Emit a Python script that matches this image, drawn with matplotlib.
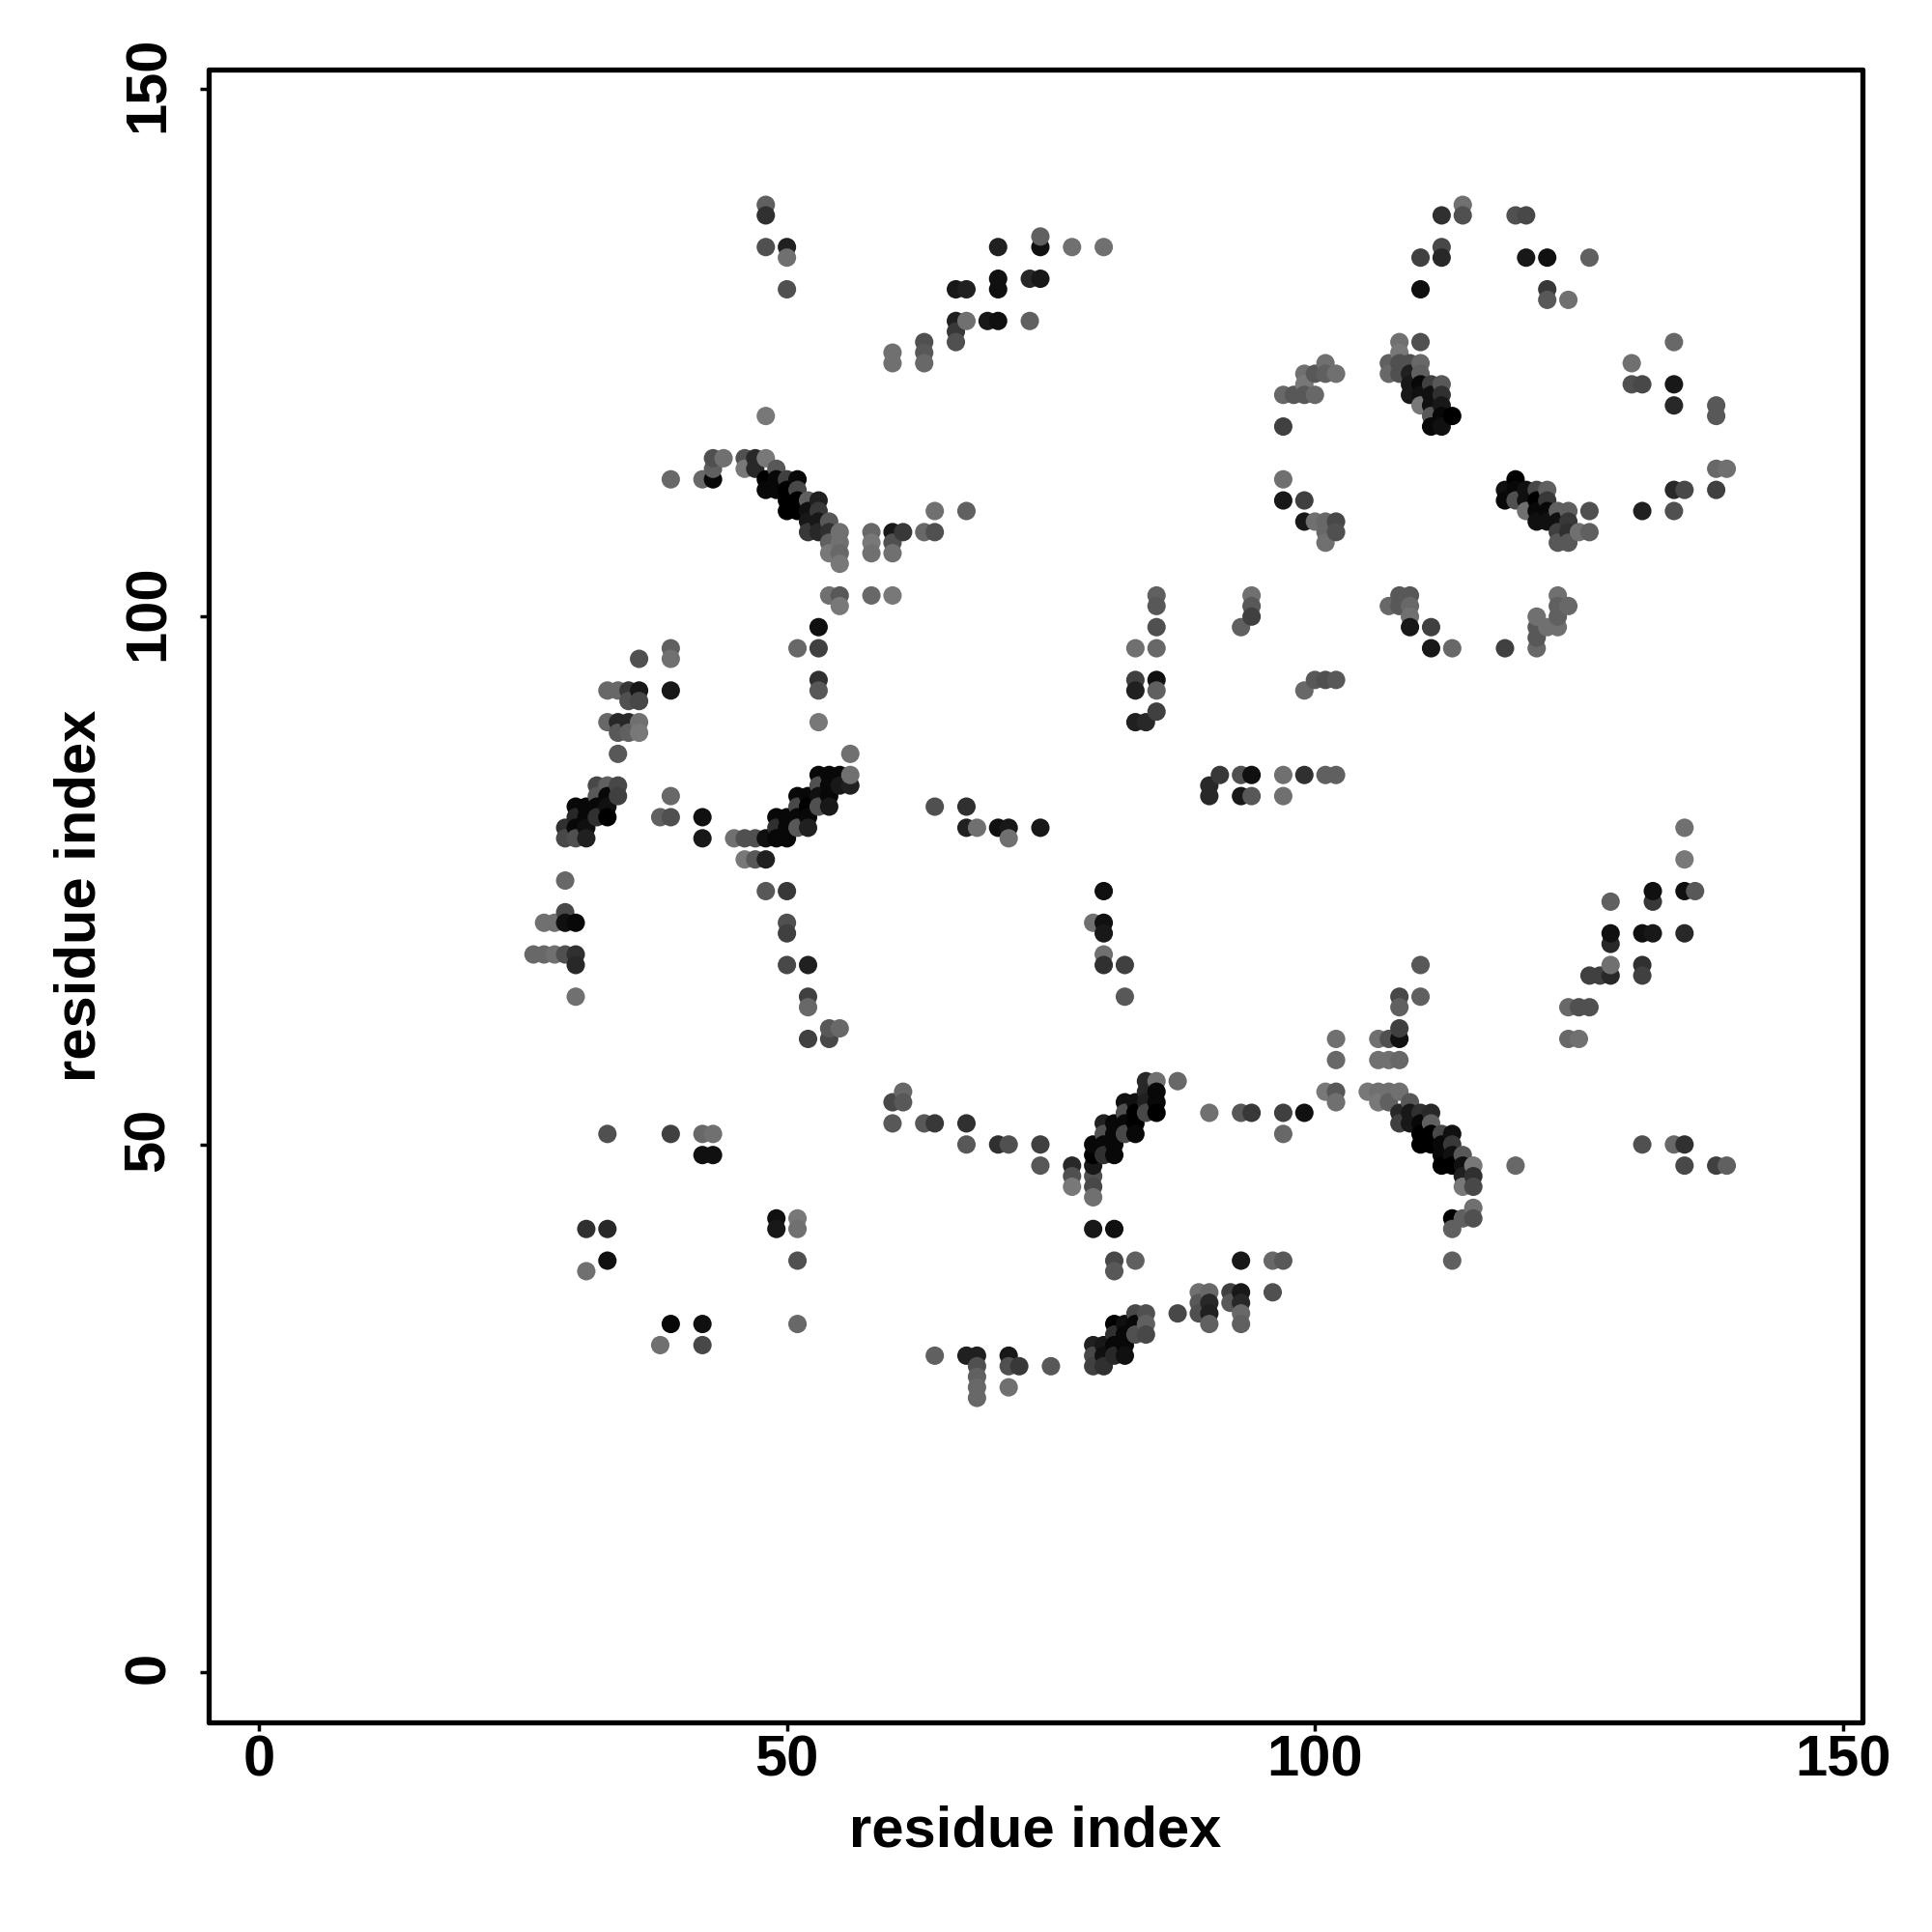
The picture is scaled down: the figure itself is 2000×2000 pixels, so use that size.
import matplotlib
matplotlib.use('Agg')
import matplotlib.pyplot as plt
import matplotlib.transforms as mtrans
import numpy as np

# contacts as (residue x, residue y, grey level), one list per region of the map
top_left = [
    (48,139,0x60),(48,138,0x30),(48,135,0x50),(50,135,0x20),(50,134,0x70),(50,131,0x50),
    (60,125,0x70),(60,124,0x70),(63,126,0x50),(63,125,0x58),(63,124,0x68),
    (66,128,0x20),(66,127,0x38),(66,126,0x50),(67,128,0x70),(66,131,0x18),(67,131,0x20),
    (69,128,0x18),(70,128,0x10),(70,132,0x10),(70,131,0x10),(73,128,0x60),(73,132,0x28),(74,132,0x18),
    (70,135,0x20),(74,135,0x10),(74,136,0x60),(77,135,0x70),(80,135,0x70),
]
top_ring = [
    (112,138,0x30),(114,139,0x70),(114,138,0x50),(110,134,0x40),(112,135,0x48),(112,134,0x28),(110,131,0x10),
    (119,138,0x50),(120,138,0x48),(120,134,0x18),(122,134,0x10),(122,131,0x38),(122,130,0x58),(124,130,0x70),(126,134,0x60),
    (108,126,0x70),(110,126,0x50),(108,125,0x78),(107,124,0x60),(107,123,0x68),(108,124,0x50),(108,123,0x50),(109,124,0x50),
    (109,123,0x20),(110,124,0x68),(110,123,0x60),(109,122,0x18),(109,121,0x18),(110,122,0x08),(110,121,0x10),(110,120,0x78),
    (111,122,0x40),(112,122,0x58),(111,121,0x10),(112,121,0x30),(111,120,0x10),(112,120,0x18),(111,119,0x58),(112,119,0x08),(113,119,0x00),
    (111,118,0x08),(112,118,0x10),
    (101,124,0x70),(99,123,0x70),(100,123,0x58),(101,123,0x60),(102,123,0x70),(99,122,0x78),(97,121,0x68),(98,121,0x58),(99,121,0x58),(100,121,0x68),(97,118,0x40),
    (134,126,0x68),(130,124,0x70),(130,122,0x50),(131,122,0x48),(134,122,0x18),(134,120,0x28),(138,120,0x58),(138,119,0x58),
    (138,114,0x68),(139,114,0x70),(138,112,0x40),(134,112,0x28),(135,112,0x48),(131,110,0x20),(134,110,0x50),
    (119,113,0x00),(118,112,0x10),(119,112,0x08),(120,112,0x10),(121,112,0x48),(122,112,0x60),
    (118,111,0x08),(119,111,0x50),(120,111,0x10),(121,111,0x00),(122,111,0x38),
    (120,110,0x70),(121,110,0x08),(122,110,0x08),(123,110,0x60),(124,110,0x60),(126,110,0x50),
    (121,109,0x10),(122,109,0x10),(123,109,0x10),(124,109,0x38),
    (123,108,0x40),(124,108,0x30),(125,108,0x70),(126,108,0x60),(123,107,0x58),(124,107,0x58),
    (97,113,0x70),(97,111,0x18),(99,111,0x40),(99,109,0x18),(100,109,0x70),(101,109,0x68),(102,109,0x48),
    (101,108,0x68),(102,108,0x50),(101,107,0x70),
    (94,102,0x70),(94,101,0x58),(94,100,0x40),(93,99,0x60),
    (107,101,0x68),(108,102,0x58),(109,102,0x58),(108,101,0x58),(109,101,0x68),(109,100,0x70),(109,99,0x18),
    (111,99,0x40),(111,97,0x18),(113,97,0x68),(118,97,0x40),(121,97,0x68),(121,98,0x58),(121,99,0x58),(121,100,0x70),
    (122,99,0x70),(123,99,0x70),(123,102,0x70),(123,100,0x60),(123,101,0x60),(124,101,0x68),
]
middle = [
    (102,94,0x58),(99,93,0x68),(100,94,0x58),(101,94,0x50),
    (85,102,0x60),(85,101,0x58),(85,99,0x50),(83,97,0x70),(85,97,0x68),(83,94,0x40),(85,94,0x10),(83,93,0x20),(85,93,0x60),
    (85,91,0x40),(84,90,0x28),(83,90,0x20),
    (90,84,0x28),(90,83,0x28),(91,85,0x38),(93,85,0x50),(94,85,0x10),(93,83,0x18),(94,83,0x58),(97,85,0x70),(97,83,0x70),
    (99,85,0x30),(101,85,0x60),(102,85,0x60),
    (64,82,0x50),(67,82,0x30),(67,80,0x20),(68,80,0x70),(70,80,0x10),(71,80,0x18),(71,79,0x70),(74,80,0x18),
    (80,74,0x10),(79,71,0x70),(80,71,0x10),(80,70,0x18),(80,68,0x70),(80,67,0x30),(82,67,0x40),(82,64,0x58),
]
upper_left = [
    (48,119,0x78),(39,113,0x68),(42,113,0x68),(43,113,0x08),(43,114,0x60),(43,115,0x50),(44,115,0x70),
    (46,115,0x50),(46,114,0x78),(47,115,0x28),(47,114,0x28),(48,115,0x78),(49,114,0x58),
    (48,113,0x00),(49,113,0x08),(50,113,0x40),(51,113,0x08),(48,112,0x08),(49,112,0x08),(50,112,0x00),(51,112,0x48),
    (50,111,0x00),(51,111,0x00),(52,111,0x60),(53,111,0x20),(50,110,0x00),(51,110,0x00),(52,110,0x10),(53,110,0x38),
    (52,109,0x18),(53,109,0x18),(54,109,0x58),(52,108,0x38),(53,108,0x28),(54,108,0x30),(55,108,0x70),
    (54,107,0x60),(55,107,0x70),(54,106,0x78),(55,106,0x68),(55,105,0x78),
    (58,108,0x68),(58,107,0x78),(58,106,0x70),(60,108,0x18),(61,108,0x38),(60,107,0x50),(60,106,0x70),
    (63,108,0x68),(64,108,0x50),(64,110,0x70),(67,110,0x60),
    (54,102,0x70),(55,102,0x58),(55,101,0x78),(58,102,0x68),(60,102,0x78),
    (53,99,0x10),(51,97,0x68),(53,97,0x40),(53,94,0x30),(53,93,0x58),
]
left_mid = [
    (36,96,0x50),(39,97,0x60),(39,96,0x70),(39,93,0x18),(33,93,0x68),(34,93,0x68),(35,93,0x38),(36,93,0x18),(35,92,0x50),(36,92,0x48),
    (33,90,0x68),(34,90,0x28),(35,90,0x28),(36,90,0x70),(34,89,0x58),(35,89,0x60),(36,89,0x78),(34,87,0x58),(53,90,0x78),(56,87,0x70),
    (53,85,0x08),(54,85,0x08),(55,85,0x08),(53,84,0x50),(54,84,0x08),(55,84,0x18),(56,84,0x20),(56,85,0x70),
    (51,83,0x08),(52,83,0x08),(53,83,0x10),(54,83,0x08),(51,82,0x48),(52,82,0x00),(53,82,0x50),(54,82,0x18),
    (49,81,0x08),(50,81,0x08),(51,81,0x08),(52,81,0x08),(49,80,0x30),(50,80,0x08),(51,80,0x58),(52,80,0x20),
    (45,79,0x70),(46,79,0x50),(47,79,0x50),(48,79,0x10),(49,79,0x08),(50,79,0x08),(46,77,0x78),(47,77,0x58),(48,77,0x20),
    (48,74,0x58),(50,74,0x38),(50,71,0x50),(50,70,0x40),(50,67,0x48),(52,67,0x20),(52,64,0x40),(52,63,0x68),
    (52,60,0x40),(54,60,0x48),(54,61,0x58),(55,61,0x68),
    (32,84,0x48),(33,84,0x60),(34,84,0x48),(32,83,0x58),(33,83,0x08),(34,83,0x40),
    (30,82,0x08),(31,82,0x08),(32,82,0x08),(33,82,0x10),(30,81,0x28),(31,81,0x08),(32,81,0x30),(33,81,0x00),
    (29,80,0x30),(30,80,0x08),(31,80,0x10),(29,79,0x48),(30,79,0x50),(31,79,0x20),
    (38,81,0x60),(39,81,0x50),(39,83,0x68),(42,81,0x10),(42,79,0x18),
    (29,75,0x68),(29,72,0x48),(29,71,0x10),(30,71,0x08),(27,71,0x70),(28,71,0x70),
    (26,68,0x68),(27,68,0x68),(28,68,0x70),(29,68,0x50),(30,68,0x30),(30,67,0x28),(30,64,0x70),
]
lower_right = [
    (102,60,0x70),(102,58,0x68),(102,55,0x58),(101,55,0x78),(102,54,0x70),
    (105,55,0x78),(106,55,0x70),(107,55,0x70),(108,55,0x70),(106,54,0x78),(107,54,0x60),
    (106,60,0x70),(107,60,0x50),(108,60,0x10),(108,61,0x40),(106,58,0x70),(107,58,0x70),(108,58,0x68),
    (108,64,0x48),(108,63,0x60),(110,67,0x58),(110,64,0x60),
    (109,54,0x58),(108,53,0x28),(108,52,0x40),(109,53,0x18),(109,52,0x18),(110,53,0x30),(111,53,0x28),
    (110,52,0x08),(111,52,0x60),(110,51,0x00),(111,51,0x00),(112,51,0x48),(113,51,0x10),
    (110,50,0x00),(111,50,0x00),(112,50,0x08),(113,50,0x38),(112,49,0x08),(113,49,0x10),(114,49,0x58),
    (112,48,0x00),(113,48,0x00),(114,48,0x10),(115,48,0x78),(114,47,0x20),(115,47,0x30),(114,46,0x78),(115,46,0x48),
    (115,44,0x70),(113,43,0x00),(114,43,0x60),(115,43,0x50),(113,42,0x60),(113,39,0x60),
    (119,48,0x68),(131,50,0x50),(134,50,0x68),(135,50,0x30),(135,48,0x48),(138,48,0x40),(139,48,0x60),
    (124,63,0x68),(125,63,0x50),(126,63,0x50),(124,60,0x68),(125,60,0x70),
    (126,66,0x40),(127,66,0x40),(128,66,0x28),(128,67,0x70),(128,69,0x28),(128,70,0x10),(128,73,0x60),
    (131,67,0x30),(131,66,0x40),(131,70,0x10),(132,70,0x18),(132,73,0x38),(132,74,0x10),
    (135,70,0x28),(135,74,0x10),(136,74,0x58),(135,77,0x78),(135,80,0x70),
]
lower_left = [
    (60,54,0x48),(61,55,0x68),(61,54,0x58),(60,52,0x58),(63,52,0x58),(64,52,0x38),(67,52,0x30),(67,50,0x58),
    (70,50,0x30),(71,50,0x50),(74,50,0x40),(74,48,0x58),(77,48,0x28),(77,47,0x50),(77,46,0x78),
    (79,47,0x50),(79,46,0x48),(79,45,0x70),(79,48,0x18),(79,49,0x00),(79,50,0x08),
    (80,52,0x20),(80,51,0x50),(80,50,0x08),(80,49,0x30),(81,52,0x08),(81,51,0x08),(81,50,0x08),(81,49,0x08),
    (82,54,0x10),(82,53,0x50),(82,52,0x08),(82,51,0x48),(83,54,0x10),(83,53,0x00),(83,52,0x00),(83,51,0x08),
    (84,56,0x28),(84,55,0x28),(84,54,0x20),(84,53,0x48),(85,56,0x70),(85,55,0x08),(85,54,0x08),(85,53,0x00),(87,56,0x68),
    (90,53,0x70),(93,53,0x58),(94,53,0x38),(97,53,0x40),(99,53,0x10),(97,51,0x68),
    (79,42,0x18),(81,42,0x10),(81,39,0x48),(81,38,0x58),(83,39,0x60),(93,39,0x18),(96,39,0x68),(97,39,0x58),(96,36,0x50),
    (33,51,0x50),(39,51,0x40),(42,51,0x68),(43,51,0x70),(42,49,0x10),(43,49,0x10),
    (31,42,0x30),(33,42,0x28),(33,39,0x10),(31,38,0x70),(49,43,0x10),(49,42,0x18),(51,43,0x78),(51,42,0x70),(51,39,0x50),
    (51,33,0x68),(39,33,0x08),(42,33,0x10),(38,31,0x70),(42,31,0x48),
]
bottom = [
    (89,36,0x70),(90,36,0x68),(89,35,0x58),(90,35,0x28),(89,34,0x50),(90,34,0x20),(90,33,0x60),(87,34,0x48),
    (92,36,0x40),(93,36,0x18),(92,35,0x58),(93,35,0x28),(93,34,0x68),(93,33,0x60),
    (83,34,0x48),(84,34,0x50),(81,33,0x00),(82,33,0x10),(83,33,0x08),(84,33,0x60),
    (81,32,0x30),(82,32,0x08),(83,32,0x50),(84,32,0x48),
    (79,31,0x20),(80,31,0x18),(81,31,0x08),(82,31,0x08),(79,30,0x48),(80,30,0x10),(81,30,0x28),(82,30,0x10),
    (79,29,0x40),(80,29,0x30),(75,29,0x58),
    (64,30,0x60),(67,30,0x20),(68,30,0x20),(68,29,0x50),(68,28,0x60),(68,27,0x68),(68,26,0x68),
    (71,30,0x18),(71,29,0x50),(72,29,0x38),(71,27,0x70),
]

contacts = np.array(top_left + top_ring + middle + upper_left + left_mid + lower_right + lower_left + bottom)
contacts = contacts[np.argsort(contacts[:, 0], kind='stable')]
ticks = [0, 50, 100, 150]

W = 2000.0
plt.rcParams['font.family'] = ['Liberation Sans', 'DejaVu Sans']
fig = plt.figure(figsize=(20, 20), dpi=100)
ax = fig.add_axes([215.8 / W, 1 - 1783.4 / W, (1928 - 215.8) / W, (1783.4 - 71.7) / W])
ax.scatter(contacts[:, 0], contacts[:, 1], s=188, c=contacts[:, 2] / 255.0, cmap='gray',
           vmin=0, vmax=1, linewidths=0, zorder=3)
ax.set_xlim(-4.78, 151.85)
ax.set_ylim(-4.77, 151.84)
ax.set_xticks(ticks)
ax.set_yticks(ticks)
ax.tick_params(axis='x', length=6.5, width=2.5, labelsize=43, pad=2)
ax.tick_params(axis='y', length=6.5, width=2.5, labelsize=43, pad=18)
for lab in ax.get_xticklabels() + ax.get_yticklabels():
    lab.set_fontweight('bold')
# rotated labels sit a bit low, nudge them up
nudge = mtrans.Affine2D().translate(0, 4.5)
for lab in ax.get_yticklabels():
    lab.set_rotation(90)
    lab.set_va('center')
    lab.set_transform(lab.get_transform() + nudge)
for s in ax.spines.values():
    s.set_linewidth(3.8)
    s.set_capstyle('round')
ax.set_xlabel('residue index', fontsize=43, fontweight='bold', labelpad=13)
ax.set_ylabel('residue index', fontsize=43, fontweight='bold', labelpad=12)
fig.savefig('out.png', dpi=100)
